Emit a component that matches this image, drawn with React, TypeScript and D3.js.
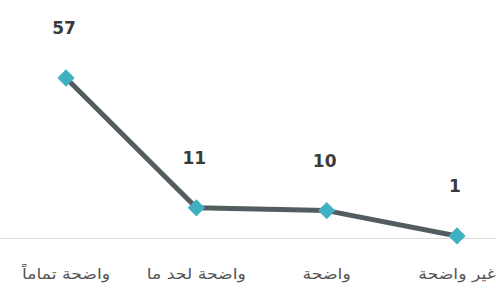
import React from "react";
import * as d3 from "d3";

const categories = ["واضحة تماماً", "واضحة لحد ما", "واضحة", "غير واضحة"];
const values = [57, 11, 10, 1];

const W = 496;
const H = 288;

export default function App() {
  const x = d3.scalePoint<string>().domain(categories).range([66, 457]);
  const y = d3.scaleLinear().domain([0, 57]).range([238.8, 78]);
  const line = d3
    .line<number>()
    .x((_, i) => x(categories[i]) as number)
    .y((d) => y(d));
  const diamond = d3.symbol().type(d3.symbolDiamond2).size(190)();
  return (
    <svg
      width={W}
      height={H}
      style={{ position: "absolute", left: 0, top: 0, background: "#fff" }}
    >
      <line x1={0} x2={W} y1={238.5} y2={238.5} stroke="#d9d9d9" strokeWidth={1} />
      <path d={line(values) || ""} fill="none" stroke="#535d60" strokeWidth={5} strokeLinejoin="round" />
      {values.map((v, i) => (
        <path
          key={"m" + i}
          d={diamond || ""}
          transform={`translate(${x(categories[i])},${y(v)})`}
          fill="#3fb1c0"
        />
      ))}
      {values.map((v, i) => (
        <text
          key={"l" + i}
          x={(x(categories[i]) as number) - 2}
          y={y(v) - 44}
          textAnchor="middle"
          fontFamily="DejaVu Sans, sans-serif"
          fontWeight="bold"
          fontSize={17}
          fill="#3a3a3a"
        >
          {v}
        </text>
      ))}
      {categories.map((c, i) => (
        <g key={"c" + i} transform={`translate(${x(c)},279) scale(1.15,1)`}>
          <text
            x={0}
            y={0}
            textAnchor="middle"
            direction="rtl"
            fontFamily="DejaVu Sans, sans-serif"
            fontSize={15}
            fill="#555"
          >
            {c}
          </text>
        </g>
      ))}
    </svg>
  );
}
